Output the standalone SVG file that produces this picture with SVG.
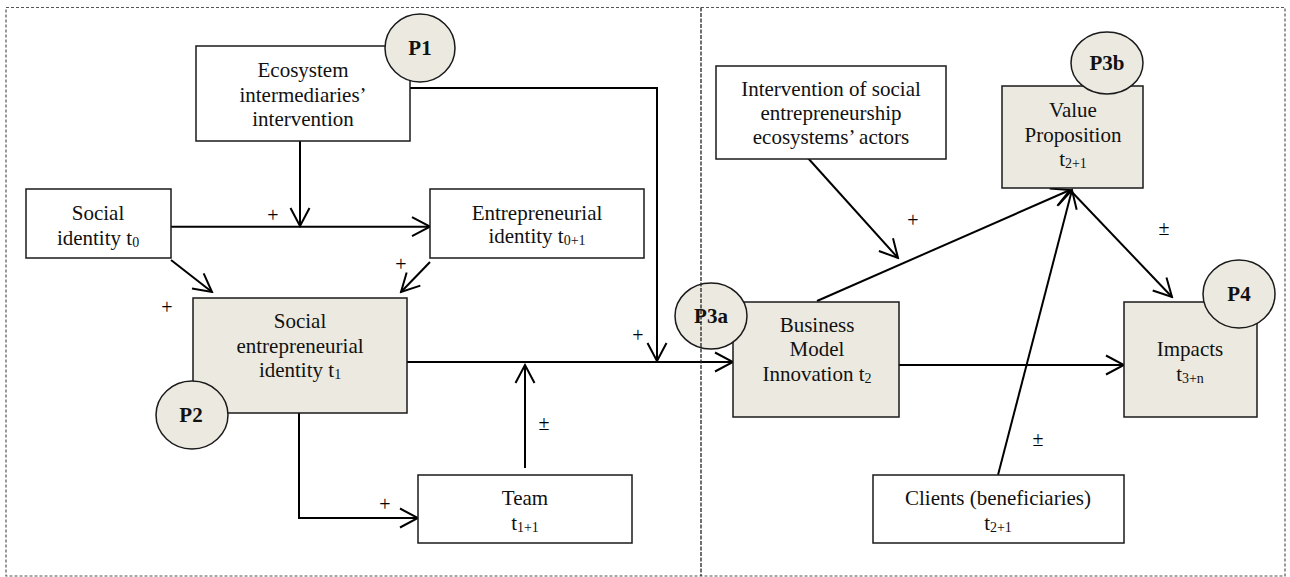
<svg xmlns="http://www.w3.org/2000/svg" width="1290" height="577" viewBox="0 0 1290 577">
<style>
text{font-family:"Liberation Serif","Times New Roman",serif;fill:#111;}
.t{font-size:21px;text-anchor:middle;}
.sub{font-size:14px;}
.p{font-size:21px;font-weight:bold;text-anchor:middle;}
.s{font-size:20px;text-anchor:middle;fill:#000;}
.box{fill:#fff;stroke:#1a1a1a;stroke-width:1.5;}
.sh{fill:#ECEAE0;stroke:#1a1a1a;stroke-width:1.5;}
.circ{fill:#ECEAE0;stroke:#1a1a1a;stroke-width:1.5;}
.c{fill:none;stroke:#000;stroke-width:2;marker-end:url(#arr);}
</style>
<defs>
<marker id="arr" markerUnits="userSpaceOnUse" viewBox="-20 -12 22 24" refX="0" refY="0" markerWidth="22" markerHeight="24" orient="auto">
<path d="M-18,-9.5 L0,0 L-18,9.5" fill="none" stroke="#000" stroke-width="2"/>
</marker>
</defs>
<rect x="6" y="7.5" width="1279" height="568.5" fill="#fff" stroke="#555" stroke-width="1.2" stroke-dasharray="3 2"/>

<g id="connectors">
<path class="c" d="M300,141 L300,226"/>
<path class="c" d="M171,226.7 L430,226.7"/>
<path class="c" d="M171,260 L212,292"/>
<path class="c" d="M430,262 L401,292"/>
<path class="c" d="M410,88 L657,88 L657,361"/>
<path class="c" d="M407,362 L733,362"/>
<path class="c" d="M525,468 L525,365"/>
<path class="c" d="M299,413 L299,518 L418,518"/>
<path class="c" d="M807,157 L898,258"/>
<path class="c" d="M817,301 L1070,190"/>
<path class="c" d="M998,475 L1072,190"/>
<path class="c" d="M1070,190 L1172,297"/>
<path class="c" d="M899,365 L1124,365"/>
</g>

<g id="labels">
<text class="s" x="273" y="222">+</text>
<text class="s" x="401" y="271">+</text>
<text class="s" x="167" y="314">+</text>
<text class="s" x="638" y="342">+</text>
<text class="s" x="385" y="511">+</text>
<text class="s" x="913" y="227">+</text>
<text class="s" x="544" y="430">±</text>
<text class="s" x="1164" y="235">±</text>
<text class="s" x="1038" y="446">±</text>
</g>

<g id="ecosystem">
<rect class="box" x="196" y="46" width="214" height="95"/>
<text class="t" x="303" y="77">Ecosystem</text>
<text class="t" x="303" y="101.5">intermediaries’</text>
<text class="t" x="303" y="126">intervention</text>
</g>
<g id="P1">
<ellipse class="circ" cx="420" cy="48" rx="35" ry="34"/>
<text class="p" x="420" y="55">P1</text>
</g>

<g id="social-identity">
<rect class="box" x="26" y="189" width="145" height="69"/>
<text class="t" x="98" y="220">Social</text>
<text class="t" x="98" y="245">identity t<tspan class="sub" dy="2">0</tspan></text>
</g>

<g id="entrepreneurial-identity">
<rect class="box" x="430" y="189" width="214" height="69"/>
<text class="t" x="537" y="220">Entrepreneurial</text>
<text class="t" x="537" y="243">identity t<tspan class="sub" dy="2">0+1</tspan></text>
</g>

<g id="social-entrepreneurial-identity">
<rect class="sh" x="193" y="298" width="214" height="115"/>
<text class="t" x="300" y="328">Social</text>
<text class="t" x="300" y="353">entrepreneurial</text>
<text class="t" x="300" y="377">identity t<tspan class="sub" dy="2">1</tspan></text>
</g>
<g id="P2">
<ellipse class="circ" cx="192" cy="415" rx="36" ry="34"/>
<text class="p" x="191" y="422">P2</text>
</g>

<g id="team">
<rect class="box" x="418" y="475" width="214" height="68"/>
<text class="t" x="525" y="505">Team</text>
<text class="t" x="525" y="530">t<tspan class="sub" dy="2">1+1</tspan></text>
</g>

<g id="intervention">
<rect class="box" x="716" y="66" width="230" height="93"/>
<text class="t" x="831" y="96">Intervention of social</text>
<text class="t" x="831" y="120">entrepreneurship</text>
<text class="t" x="831" y="144">ecosystems’ actors</text>
</g>

<g id="value-proposition">
<rect class="sh" x="1002" y="86" width="141" height="102"/>
<text class="t" x="1073" y="117">Value</text>
<text class="t" x="1073" y="142">Proposition</text>
<text class="t" x="1073" y="166">t<tspan class="sub" dy="2">2+1</tspan></text>
</g>
<g id="P3b">
<ellipse class="circ" cx="1107" cy="63" rx="36" ry="31"/>
<text class="p" x="1107" y="70">P3b</text>
</g>

<g id="business-model">
<rect class="sh" x="733" y="302" width="166" height="115"/>
<text class="t" x="817" y="332">Business</text>
<text class="t" x="817" y="356">Model</text>
<text class="t" x="817" y="381">Innovation t<tspan class="sub" dy="2">2</tspan></text>
</g>
<g id="P3a">
<ellipse class="circ" cx="711" cy="316" rx="36" ry="33"/>
<text class="p" x="711" y="323">P3a</text>
</g>

<g id="impacts">
<rect class="sh" x="1124" y="302" width="133" height="115"/>
<text class="t" x="1190" y="356">Impacts</text>
<text class="t" x="1190" y="381">t<tspan class="sub" dy="2">3+n</tspan></text>
</g>
<g id="P4">
<ellipse class="circ" cx="1239" cy="294" rx="36" ry="34"/>
<text class="p" x="1239" y="301">P4</text>
</g>

<g id="clients">
<rect class="box" x="873" y="475" width="251" height="68"/>
<text class="t" x="998" y="505">Clients (beneficiaries)</text>
<text class="t" x="998" y="530">t<tspan class="sub" dy="2">2+1</tspan></text>
</g>

<line x1="701" y1="7.5" x2="701" y2="576" stroke="#222" stroke-width="1.3" stroke-dasharray="4 1.5"/>
</svg>
